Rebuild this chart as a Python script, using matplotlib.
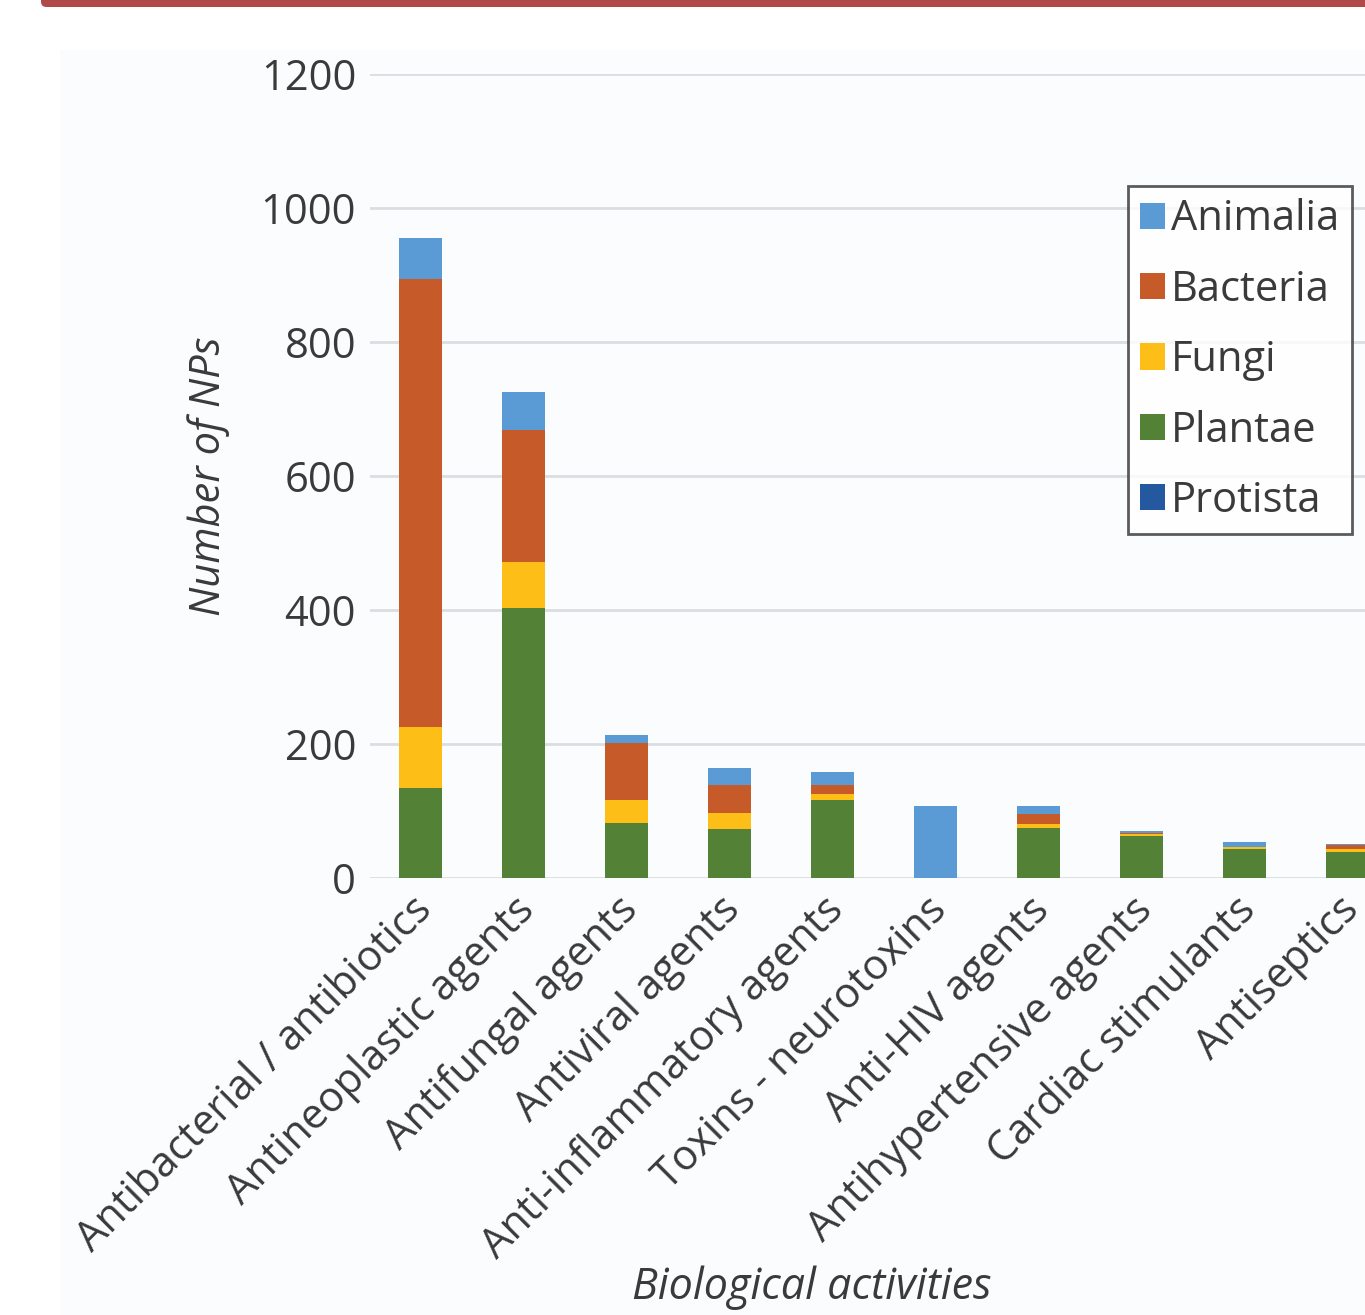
import matplotlib.pyplot as plt
from matplotlib.patches import Patch, Rectangle, FancyBboxPatch
from matplotlib.transforms import ScaledTranslation

# Natural products per biological activity, split by kingdom of origin
activities = ["Antibacterial / antibiotics", "Antineoplastic agents", "Antifungal agents",
              "Antiviral agents", "Anti-inflammatory agents", "Toxins - neurotoxins",
              "Anti-HIV agents", "Antihypertensive agents", "Cardiac stimulants", "Antiseptics"]
plantae = [134, 403, 82, 73, 116, 0, 74, 62, 43, 39]
fungi = [91, 69, 34, 24, 10, 0, 7, 4, 4, 5]
bacteria = [669, 197, 86, 42, 13, 0, 15, 1, 0, 5]
animalia = [61, 56, 11, 25, 19, 107, 12, 3, 7, 2]
protista = [0, 0, 0, 0, 0, 0, 0, 0, 0, 0]

colors = {"Animalia": "#5b9bd5", "Bacteria": "#c65a28", "Fungi": "#fdbf17",
          "Plantae": "#538135", "Protista": "#2459a0"}

plt.rcParams['font.family'] = ['Open Sans', 'DejaVu Sans']
txt = "#3a3a3a"

fig = plt.figure(figsize=(13.65, 13.15), dpi=100)
fig.patch.set_facecolor("white")

# light panel behind the chart and red strip at the top
fig.patches.append(Rectangle((60 / 1365, 0), 1, 1 - 50 / 1315, transform=fig.transFigure,
                             facecolor="#fbfcfd", edgecolor="none", zorder=-2))
fig.patches.append(FancyBboxPatch((41 / 1365, 1 - 7 / 1315), 1.1, 0.02, transform=fig.transFigure,
                                  boxstyle="round,pad=0,rounding_size=0.004",
                                  facecolor="#b04a48", edgecolor="none", zorder=-1))

ax = fig.add_axes([370 / 1365, 437 / 1315, 1 - 370 / 1365, 804 / 1315])
ax.set_facecolor("none")

x = list(range(len(activities)))
w = 0.41
bottom = [0] * len(x)
series = [("Plantae", plantae), ("Fungi", fungi), ("Bacteria", bacteria),
          ("Animalia", animalia), ("Protista", protista)]
for name, vals in series:
    ax.bar(x, vals, w, bottom=bottom, color=colors[name], zorder=3)
    bottom = [b + v for b, v in zip(bottom, vals)]

ax.set_xlim(-0.49, 9.17)
ax.set_ylim(0, 1200)
ax.set_yticks(range(0, 1201, 200))
ax.grid(axis="y", color="#dcdde0", linewidth=2, zorder=0)
for s in ax.spines.values():
    s.set_visible(False)
ax.tick_params(axis="y", length=0, labelsize=30, colors=txt, pad=10)
ax.tick_params(axis="x", length=0, labelsize=30, colors=txt, pad=8)
ax.set_xticks(x)
ax.set_xticklabels(activities, rotation=45, ha="right", rotation_mode="anchor")
shift = ScaledTranslation(-10 / 100, 0, fig.dpi_scale_trans)
for lab in ax.get_xticklabels():
    lab.set_transform(lab.get_transform() + shift)

ax.set_ylabel("Number of NPs", fontsize=30, style="italic", color=txt, labelpad=22)
fig.text(812 / 1365, 1 - 1288 / 1315, "Biological activities", fontsize=31, style="italic",
         color=txt, ha="center", va="center")

handles = [Patch(facecolor=colors[n]) for n in ["Animalia", "Bacteria", "Fungi", "Plantae", "Protista"]]
leg = ax.legend(handles, ["Animalia", "Bacteria", "Fungi", "Plantae", "Protista"],
                loc="upper right", bbox_to_anchor=(1352 / 1365, 1 - 186 / 1315),
                bbox_transform=fig.transFigure, fontsize=30, frameon=True, fancybox=False,
                handlelength=0.6, handleheight=0.6, handletextpad=0.15, labelspacing=0.68,
                borderpad=0.3, borderaxespad=0)
leg.get_frame().set_edgecolor("#333333")
leg.get_frame().set_linewidth(2)
leg.get_frame().set_facecolor("white")
for t in leg.get_texts():
    t.set_color(txt)

fig.savefig("out.png", dpi=100, facecolor=fig.get_facecolor())
